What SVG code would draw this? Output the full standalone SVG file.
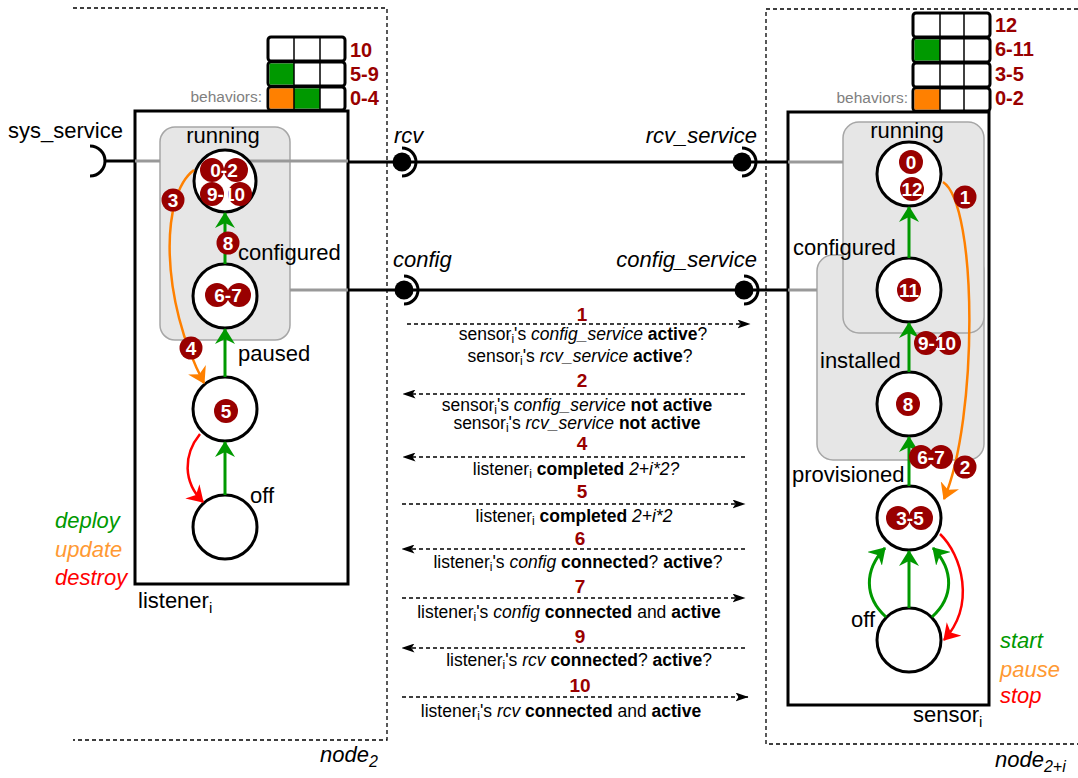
<svg xmlns="http://www.w3.org/2000/svg" width="1078" height="778" viewBox="0 0 1078 778">
<defs>
<style>
text{font-family:"Liberation Sans",Arial,sans-serif}
.lbl{font-size:22px;fill:#000}
.it{font-style:italic}
.msg{font-size:17.5px;fill:#000;text-anchor:middle}
.num{font-size:19px;font-weight:bold;fill:#990000;text-anchor:middle}
.glab{font-size:20px;font-weight:bold;fill:#990000}
.beh{font-size:15.5px;fill:#808080;text-anchor:end}
.bt{font-size:19px;font-weight:bold;fill:#fff;text-anchor:middle}
.bd{fill:#990000}
.st{fill:#fff;stroke:#000;stroke-width:3}
.grp{fill:#e6e6e6;stroke:#a6a6a6;stroke-width:1.5}
.gl{stroke:#999;stroke-width:3;fill:none}
.bl{stroke:#000;stroke-width:3;fill:none}
.box{fill:#fff;stroke:#000;stroke-width:3}
.dash{fill:none;stroke:#000;stroke-width:1.3;stroke-dasharray:4 3}
.ga{stroke:#009900;stroke-width:3;fill:none;marker-end:url(#ag)}
.oa{stroke:#ff8000;stroke-width:2.5;fill:none;marker-end:url(#ao)}
.ra{stroke:#ff0000;stroke-width:2.5;fill:none;marker-end:url(#ar)}
.ma{stroke:#000;stroke-width:1.3;stroke-dasharray:4 3;fill:none;marker-end:url(#am)}
.row{fill:#fff;stroke:#000;stroke-width:3}
.cell{fill:none;stroke:#000;stroke-width:1.5}
</style>
<marker id="ag" markerUnits="userSpaceOnUse" markerWidth="16" markerHeight="20" viewBox="0 0 16 20" refX="15" refY="10" orient="auto"><path d="M0,0 L16,10 L0,20 L5,10 z" fill="#009900"/></marker>
<marker id="ao" markerUnits="userSpaceOnUse" markerWidth="16" markerHeight="20" viewBox="0 0 16 20" refX="15" refY="10" orient="auto"><path d="M0,0 L16,10 L0,20 L5,10 z" fill="#ff8000"/></marker>
<marker id="ar" markerUnits="userSpaceOnUse" markerWidth="16" markerHeight="20" viewBox="0 0 16 20" refX="15" refY="10" orient="auto"><path d="M0,0 L16,10 L0,20 L5,10 z" fill="#ff0000"/></marker>
<marker id="am" markerUnits="userSpaceOnUse" markerWidth="13" markerHeight="9" viewBox="0 0 13 9" refX="12.5" refY="4.5" orient="auto"><path d="M0,0 L13,4.5 L0,9 L3,4.5 z" fill="#000"/></marker>
</defs>
<rect width="1078" height="778" fill="#fff"/>

<!-- nodes (deployment boxes) -->
<g id="node2">
<path class="dash" d="M73,8 H387 V740 H73"/>
<text x="320" y="762" class="lbl it">node<tspan dy="5" font-size="16">2</tspan></text>
</g>
<g id="node2i">
<path class="dash" d="M1078,9 H766 V744 H1078"/>
<text x="995" y="767" class="lbl it">node<tspan dy="5" font-size="16">2+i</tspan></text>
</g>

<!-- listener component -->
<g id="listener">
<rect class="box" x="135" y="111" width="213" height="473"/>
<text x="138" y="608" class="lbl">listener<tspan dy="5" font-size="15">i</tspan></text>
<rect class="grp" x="160" y="127" width="130" height="213" rx="15"/>
</g>
<g id="listener-behaviors">
<rect class="row" x="268" y="37" width="77" height="24" rx="3"/>
<line class="cell" x1="294" y1="37" x2="294" y2="61"/><line class="cell" x1="320" y1="37" x2="320" y2="61"/>
<rect class="row" x="268" y="62" width="77" height="24" rx="3"/>
<rect x="269.5" y="63.5" width="24.5" height="21" fill="#009900"/>
<line class="cell" x1="294" y1="62" x2="294" y2="86"/><line class="cell" x1="320" y1="62" x2="320" y2="86"/>
<rect class="row" x="268" y="87" width="77" height="23" rx="3"/>
<rect x="269.5" y="88.5" width="24.5" height="20" fill="#ff8000"/>
<rect x="294" y="88.5" width="26" height="20" fill="#009900"/>
<line class="cell" x1="294" y1="87" x2="294" y2="110"/><line class="cell" x1="320" y1="87" x2="320" y2="110"/>
<text x="262" y="102" class="beh">behaviors:</text>
<text x="350" y="57" class="glab">10</text>
<text x="350" y="81" class="glab">5-9</text>
<text x="350" y="105" class="glab">0-4</text>
</g>

<!-- sensor component -->
<g id="sensor">
<rect class="box" x="788" y="112" width="201" height="593"/>
<text x="913" y="722" class="lbl">sensor<tspan dy="5" font-size="15">i</tspan></text>
<rect class="grp" x="817" y="255" width="167" height="205" rx="16"/>
<rect class="grp" x="843" y="122" width="141" height="211" rx="16"/>
</g>
<g id="sensor-behaviors">
<rect class="row" x="913" y="13" width="77" height="24" rx="3"/>
<line class="cell" x1="940" y1="13" x2="940" y2="37"/><line class="cell" x1="964" y1="13" x2="964" y2="37"/>
<rect class="row" x="913" y="38" width="77" height="24" rx="3"/>
<rect x="914.5" y="39.5" width="25.5" height="21" fill="#009900"/>
<line class="cell" x1="940" y1="38" x2="940" y2="62"/><line class="cell" x1="964" y1="38" x2="964" y2="62"/>
<rect class="row" x="913" y="63" width="77" height="24" rx="3"/>
<line class="cell" x1="940" y1="63" x2="940" y2="87"/><line class="cell" x1="964" y1="63" x2="964" y2="87"/>
<rect class="row" x="913" y="88" width="77" height="23" rx="3"/>
<rect x="914.5" y="89.5" width="25.5" height="20" fill="#ff8000"/>
<line class="cell" x1="940" y1="88" x2="940" y2="111"/><line class="cell" x1="964" y1="88" x2="964" y2="111"/>
<text x="908" y="103" class="beh">behaviors:</text>
<text x="995" y="32" class="glab">12</text>
<text x="995" y="56" class="glab">6-11</text>
<text x="995" y="81" class="glab">3-5</text>
<text x="995" y="105" class="glab">0-2</text>
</g>

<!-- connectors -->
<g id="connectors">
<line class="gl" x1="135" y1="161" x2="160" y2="161"/>
<line class="gl" x1="240" y1="161" x2="348" y2="161"/>
<line class="gl" x1="290" y1="290" x2="348" y2="290"/>
<line class="gl" x1="788" y1="162" x2="843" y2="162"/>
<line class="gl" x1="788" y1="290" x2="817" y2="290"/>
<line class="bl" x1="104" y1="161" x2="135" y2="161"/>
<path class="bl" d="M90,146 A15,15 0 0 1 90,176"/>
<line class="bl" x1="348" y1="162" x2="788" y2="162"/>
<line class="bl" x1="348" y1="290" x2="788" y2="290"/>
<circle cx="402" cy="162" r="9.5" fill="#000"/>
<path class="bl" d="M402,148 A14,14 0 0 1 402,176"/>
<circle cx="742" cy="162" r="9.5" fill="#000"/>
<path class="bl" d="M742,148 A14,14 0 0 1 742,176"/>
<circle cx="404" cy="290" r="9.5" fill="#000"/>
<path class="bl" d="M404,276 A14,14 0 0 1 404,304"/>
<circle cx="744" cy="290" r="9.5" fill="#000"/>
<path class="bl" d="M744,276 A14,14 0 0 1 744,304"/>
</g>
<g id="port-labels">
<text x="8" y="138" class="lbl">sys_service</text>
<text x="394" y="143" class="lbl it">rcv</text>
<text x="757" y="143" class="lbl it" text-anchor="end">rcv_service</text>
<text x="393" y="267" class="lbl it">config</text>
<text x="757" y="267" class="lbl it" text-anchor="end">config_service</text>
</g>

<!-- listener states -->
<g id="l-running"><circle class="st" cx="225" cy="181" r="31"/><text x="223" y="143" class="lbl" text-anchor="middle">running</text></g>
<g id="l-configured"><circle class="st" cx="225" cy="296" r="32"/><text x="238" y="260" class="lbl">configured</text></g>
<g id="l-paused"><circle class="st" cx="225" cy="409" r="32"/><text x="238" y="361" class="lbl">paused</text></g>
<g id="l-off"><circle class="st" cx="225" cy="527" r="32"/><text x="250" y="503" class="lbl">off</text></g>

<!-- sensor states -->
<g id="s-running"><circle class="st" cx="909" cy="174" r="32"/><text x="907" y="138" class="lbl" text-anchor="middle">running</text></g>
<g id="s-configured"><circle class="st" cx="909" cy="290" r="32"/><text x="793" y="255" class="lbl">configured</text></g>
<g id="s-installed"><circle class="st" cx="909" cy="404" r="32"/><text x="820" y="368" class="lbl">installed</text></g>
<g id="s-provisioned"><circle class="st" cx="909" cy="518" r="32"/><text x="792" y="482" class="lbl">provisioned</text></g>
<g id="s-off"><circle class="st" cx="909" cy="640" r="32"/><text x="851" y="627" class="lbl">off</text></g>

<!-- transitions -->
<g id="transitions">
<line class="ga" x1="225" y1="495" x2="225" y2="442"/>
<line class="ga" x1="225" y1="377" x2="225" y2="329"/>
<line class="ga" x1="225" y1="264" x2="225" y2="213"/>
<path class="ra" d="M200,434 C183,455 183,482 203,502"/>
<path class="oa" d="M194,170 C160,195 160,300 204,383"/>
<line class="ga" x1="909" y1="258" x2="909" y2="207"/>
<line class="ga" x1="909" y1="372" x2="909" y2="323"/>
<line class="ga" x1="909" y1="486" x2="909" y2="437"/>
<line class="ga" x1="909" y1="608" x2="909" y2="551"/>
<path class="ga" d="M886,617 C864,597 864,570 885,548"/>
<path class="ga" d="M932,617 C954,597 954,570 933,548"/>
<path class="ra" d="M940,534 C962,555 976,605 944,640"/>
<path class="oa" d="M943,182 C978,205 978,420 944,499"/>
</g>

<!-- badges -->
<g id="badges">
<circle class="bd" cx="212" cy="170" r="12"/><circle class="bd" cx="236" cy="170" r="12"/><text x="224" y="177" class="bt">0-2</text>
<circle class="bd" cx="212" cy="194" r="12"/><circle class="bd" cx="240" cy="194" r="12"/><text x="226" y="201" class="bt">9-10</text>
<circle class="bd" cx="173" cy="200" r="11.5"/><text x="173" y="207" class="bt">3</text>
<circle class="bd" cx="228" cy="243" r="11.5"/><text x="228" y="250" class="bt">8</text>
<circle class="bd" cx="217" cy="295" r="12"/><circle class="bd" cx="239" cy="295" r="12"/><text x="228" y="302" class="bt">6-7</text>
<circle class="bd" cx="191" cy="348" r="11.5"/><text x="191" y="355" class="bt">4</text>
<circle class="bd" cx="226" cy="411" r="12"/><text x="226" y="418" class="bt">5</text>

<circle class="bd" cx="911" cy="162" r="12"/><text x="911" y="169" class="bt">0</text>
<circle class="bd" cx="912" cy="189" r="12"/><text x="912" y="196" class="bt">12</text>
<circle class="bd" cx="965" cy="197" r="11.5"/><text x="965" y="204" class="bt">1</text>
<circle class="bd" cx="909" cy="290" r="12"/><text x="909" y="297" class="bt">11</text>
<circle class="bd" cx="926" cy="343" r="12"/><circle class="bd" cx="949" cy="343" r="12"/><text x="937" y="350" class="bt">9-10</text>
<circle class="bd" cx="908" cy="404" r="12"/><text x="908" y="411" class="bt">8</text>
<circle class="bd" cx="921" cy="457" r="12"/><circle class="bd" cx="941" cy="457" r="12"/><text x="931" y="464" class="bt">6-7</text>
<circle class="bd" cx="965" cy="467" r="11.5"/><text x="965" y="474" class="bt">2</text>
<circle class="bd" cx="898" cy="518" r="12"/><circle class="bd" cx="921" cy="518" r="12"/><text x="910" y="525" class="bt">3-5</text>
</g>

<!-- legends -->
<g id="legend-left">
<text x="55" y="528" class="lbl it" style="fill:#009900">deploy</text>
<text x="55" y="557" class="lbl it" style="fill:#ff9933">update</text>
<text x="55" y="585" class="lbl it" style="fill:#ff0000">destroy</text>
</g>
<g id="legend-right">
<text x="1000" y="648" class="lbl it" style="fill:#009900">start</text>
<text x="1000" y="677" class="lbl it" style="fill:#ff9933">pause</text>
<text x="1000" y="703" class="lbl it" style="fill:#ff0000">stop</text>
</g>

<!-- messages -->
<g id="messages">
<text x="582" y="321" class="num">1</text>
<line class="ma" x1="407" y1="324" x2="750" y2="324"/>
<text x="583" y="340" class="msg">sensor<tspan dy="3" font-size="12">i</tspan><tspan dy="-3">'s </tspan><tspan font-style="italic">config_service</tspan> <tspan font-weight="bold">active</tspan>?</text>
<text x="580" y="362" class="msg">sensor<tspan dy="3" font-size="12">i</tspan><tspan dy="-3">'s </tspan><tspan font-style="italic">rcv_service</tspan> <tspan font-weight="bold">active</tspan>?</text>

<text x="582" y="387" class="num">2</text>
<line class="ma" x1="745" y1="394" x2="403" y2="394"/>
<text x="577" y="411" class="msg">sensor<tspan dy="3" font-size="12">i</tspan><tspan dy="-3">'s </tspan><tspan font-style="italic">config_service</tspan> <tspan font-weight="bold">not active</tspan></text>
<text x="577" y="429" class="msg">sensor<tspan dy="3" font-size="12">i</tspan><tspan dy="-3">'s </tspan><tspan font-style="italic">rcv_service</tspan> <tspan font-weight="bold">not active</tspan></text>

<text x="582" y="450" class="num">4</text>
<line class="ma" x1="745" y1="457" x2="403" y2="457"/>
<text x="576" y="475" class="msg">listener<tspan dy="3" font-size="12">i</tspan><tspan dy="-3"> </tspan><tspan font-weight="bold">completed</tspan> <tspan font-style="italic">2+i*2?</tspan></text>

<text x="582" y="498" class="num">5</text>
<line class="ma" x1="402" y1="504" x2="745" y2="504"/>
<text x="574" y="522" class="msg">listener<tspan dy="3" font-size="12">i</tspan><tspan dy="-3"> </tspan><tspan font-weight="bold">completed</tspan> <tspan font-style="italic">2+i*2</tspan></text>

<text x="580" y="545" class="num">6</text>
<line class="ma" x1="745" y1="549" x2="402" y2="549"/>
<text x="578" y="568" class="msg">listener<tspan dy="3" font-size="12">i</tspan><tspan dy="-3">'s </tspan><tspan font-style="italic">config</tspan> <tspan font-weight="bold">connected</tspan>? <tspan font-weight="bold">active</tspan>?</text>

<text x="580" y="593" class="num">7</text>
<line class="ma" x1="402" y1="598" x2="745" y2="598"/>
<text x="569" y="618" class="msg">listener<tspan dy="3" font-size="12">i</tspan><tspan dy="-3">'s </tspan><tspan font-style="italic">config</tspan> <tspan font-weight="bold">connected</tspan> and <tspan font-weight="bold">active</tspan></text>

<text x="580" y="643" class="num">9</text>
<line class="ma" x1="745" y1="648" x2="402" y2="648"/>
<text x="579" y="666" class="msg">listener<tspan dy="3" font-size="12">i</tspan><tspan dy="-3">'s </tspan><tspan font-style="italic">rcv</tspan> <tspan font-weight="bold">connected</tspan>? <tspan font-weight="bold">active</tspan>?</text>

<text x="580" y="692" class="num">10</text>
<line class="ma" x1="402" y1="697" x2="748" y2="697"/>
<text x="561" y="717" class="msg">listener<tspan dy="3" font-size="12">i</tspan><tspan dy="-3">'s </tspan><tspan font-style="italic">rcv</tspan> <tspan font-weight="bold">connected</tspan> and <tspan font-weight="bold">active</tspan></text>
</g>
</svg>
